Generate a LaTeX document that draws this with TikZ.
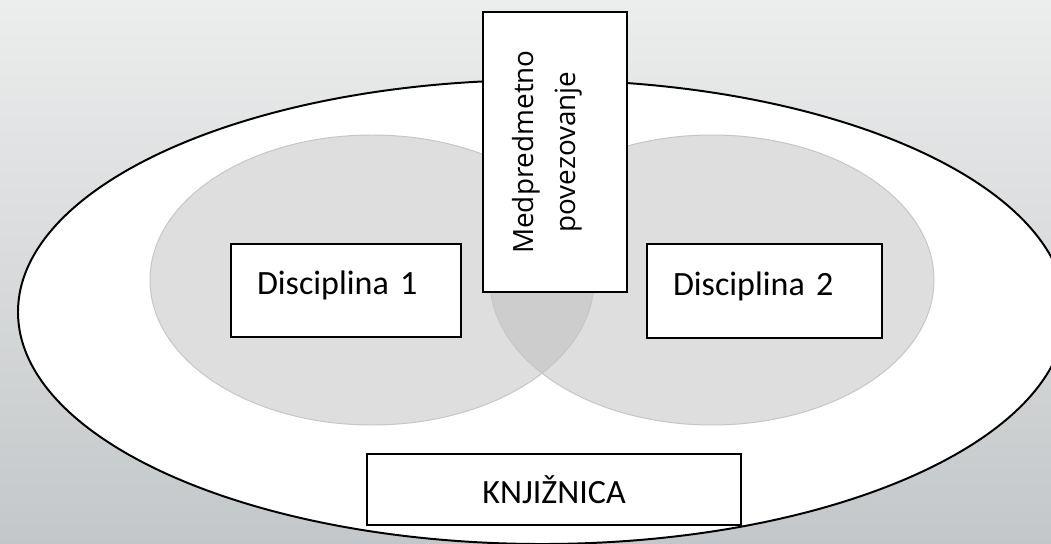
\documentclass[tikz,border=0pt]{standalone}
\usepackage{fontspec}
\setmainfont{Carlito}
\newfontfamily\linkfont{Open Sans}
\usepackage{tikz}

\definecolor{bgtop}{RGB}{236,237,237}
\definecolor{bgbottom}{RGB}{196,199,201}
\definecolor{areafill}{RGB}{222,222,222}
\definecolor{areaedge}{RGB}{198,198,198}
\definecolor{lensfill}{RGB}{205,205,205}

\tikzset{
	box/.style = {draw, fill = white, line width = 1.4pt, font = \fontsize{24.2}{29}\selectfont},
	disc/.style = {box, align = left, inner xsep = 0.65cm, text height = 0.6cm, text depth = 0.4cm}
}

\begin{document}
\begin{tikzpicture}
		\useasboundingbox (0,0) rectangle (26.275,-13.6);
		\shade[top color = bgtop, bottom color = bgbottom] (0,0) rectangle (26.275,-13.6);

		% library area
		\draw[fill = white, line width = 1.4pt] (13.55,-7.8) ellipse (13.1 and 5.8);

		% two disciplines and their overlap
		\fill[areafill] (9.3,-7) ellipse (5.55 and 3.625);
		\fill[areafill] (17.8,-7) ellipse (5.55 and 3.625);
		\begin{scope}
			\clip (9.3,-7) ellipse (5.55 and 3.625);
			\fill[lensfill] (17.8,-7) ellipse (5.55 and 3.625);
		\end{scope}
		\draw[areaedge, line width = 0.7pt] (9.3,-7) ellipse (5.55 and 3.625);
		\draw[areaedge, line width = 0.7pt] (17.8,-7) ellipse (5.55 and 3.625);

		\node[disc, minimum width = 5.75cm, minimum height = 2.325cm, text width = 4.45cm] (disc1) at (8.65,-7.2625) {Disciplina 1};

		\node[disc, minimum width = 5.875cm, minimum height = 2.35cm, text width = 4.575cm] (disc2) at (19.1125,-7.275) {Disciplina 2};

		\node[box, rotate = 90, align = center, minimum width = 7cm, minimum height = 3.6cm, text depth = 0.57cm, font = \linkfont\fontsize{19.8}{30}\selectfont] (link) at (13.875,-3.8) {Medpredmetno\\povezovanje};

		\node[box, minimum width = 9.35cm, minimum height = 1.775cm] (libbox) at (13.85,-12.2375) {KNJIŽNICA};

	\end{tikzpicture}
\end{document}
